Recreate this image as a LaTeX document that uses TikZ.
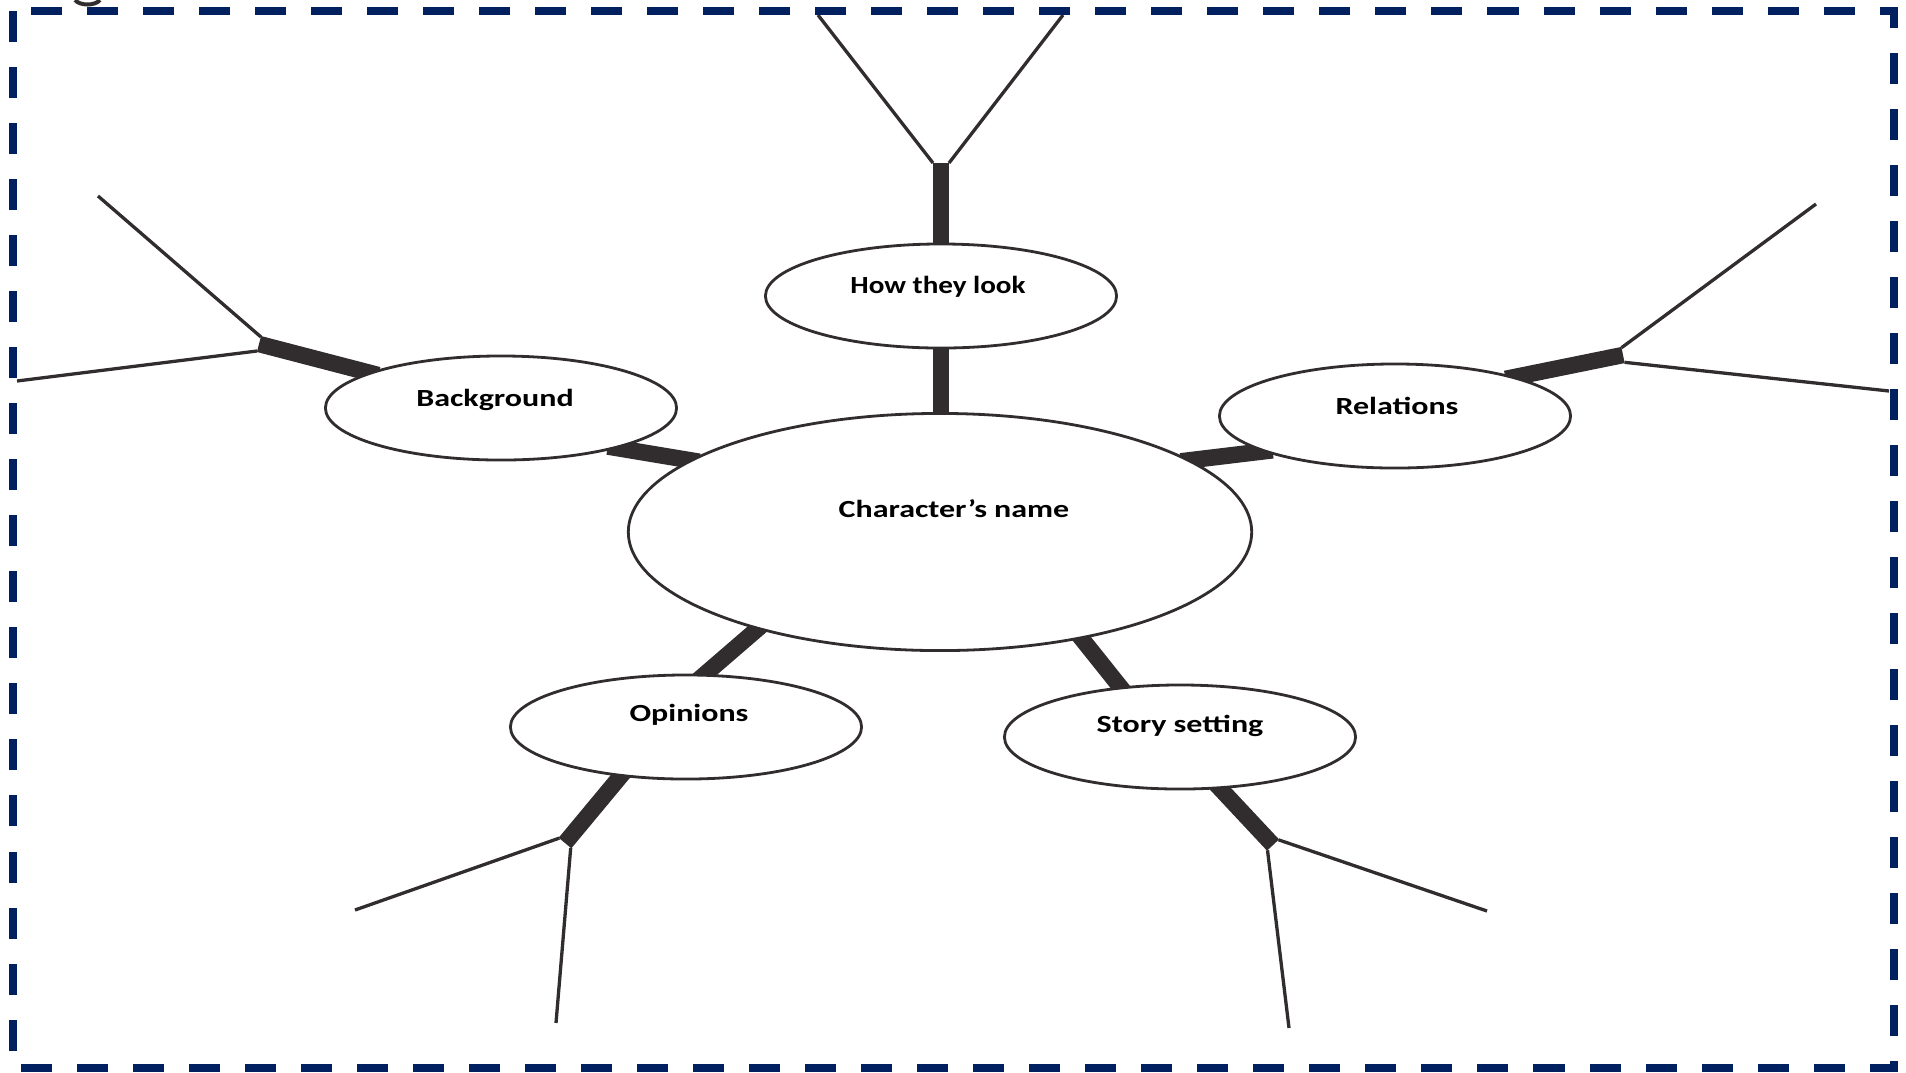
\documentclass[tikz,border=0pt]{standalone}
\usepackage{fontspec}
\newfontfamily\lblfont[FakeStretch=1.3]{Carlito}
\usetikzlibrary{shapes.geometric,backgrounds}
\definecolor{navy}{HTML}{002060}
\definecolor{ink}{HTML}{312C2D}
\begin{document}
\begin{tikzpicture}[x=0.01cm,y=-0.01cm,
  blob/.style={ellipse, draw=ink, line width=0.028cm, fill=white, inner sep=0pt,
               minimum width=3.51cm, minimum height=1.04cm},
  hub/.style={blob, minimum width=6.23cm, minimum height=2.37cm},
  txt/.style={font=\lblfont\bfseries\fontsize{7}{8}\selectfont, anchor=base,
              inner sep=0pt, text=black},
  bar/.style={draw=ink, line width=0.165cm},
  twig/.style={draw=ink, line width=0.033cm},
  frame/.style={draw=navy, line width=0.08cm, dash pattern=on 0.31cm off 0.25cm}]
\useasboundingbox (0,0) rectangle (1906,1072);

% bubbles
\node[hub]  (main) at (940,532)  {};
\node[blob] (look) at (941,296)  {};
\node[blob] (bg)   at (501,408)  {};
\node[blob] (rel)  at (1395,416) {};
\node[blob] (opi)  at (686,727)  {};
\node[blob] (sto)  at (1180,737) {};

% labels
\node[txt] (main-t) at (954,517)  {Character’s name};
\node[txt] (look-t) at (938,293)  {\scalebox{0.91}[1]{How they look}};
\node[txt] (bg-t)   at (495,406)  {Background};
\node[txt] (rel-t)  at (1397,414) {Relations};
\node[txt] (opi-t)  at (689,721)  {Opinions};
\node[txt] (sto-t)  at (1180,732) {Story setting};

% forks: junction corners and free ends of the twigs
\coordinate (jt) at (941,163);
\coordinate (jtl) at (933,163);   \coordinate (jtr) at (949,163);
\coordinate (et1) at (818,15);    \coordinate (et2) at (1063,15);
\coordinate (jb) at (259,344);
\coordinate (jbu) at (261,337);   \coordinate (jbd) at (257,351);
\coordinate (eb1) at (98,196);    \coordinate (eb2) at (17,381);
\coordinate (jr) at (1623,355);
\coordinate (jru) at (1621.5,347.7); \coordinate (jrd) at (1624.5,362.3);
\coordinate (er1) at (1816,204);  \coordinate (er2) at (1889,391);
\coordinate (jo) at (565,843);
\coordinate (jol) at (559.3,838.1); \coordinate (jod) at (570.7,847.9);
\coordinate (eo1) at (355,910);   \coordinate (eo2) at (556,1023);
\coordinate (js) at (1273,845);
\coordinate (jsr) at (1278.5,839.8); \coordinate (jsd) at (1267.5,850.2);
\coordinate (es1) at (1487,911);  \coordinate (es2) at (1289,1028);

% thick spokes, hidden behind the bubbles where they enter them
\begin{pgfonlayer}{background}
  \draw[bar, shorten <=-0.1cm, shorten >=-0.1cm] (look.270) -- (look.270 |- main.90);
  \draw[bar, shorten <=-0.1cm] (look.90) -- (jt);
  \draw[bar, shorten <=-0.1cm, shorten >=-0.1cm] (main.164) -- (bg.341);
  \draw[bar, shorten <=-0.1cm] (bg.165) -- (jb);
  \draw[bar, shorten <=-0.1cm, shorten >=-0.1cm] (main.16) -- (rel.195);
  \draw[bar, shorten <=-0.1cm] (rel.18) -- (jr);
  \draw[bar, shorten <=-0.1cm, shorten >=-0.1cm] (main.208) -- (opi.70);
  \draw[bar, shorten <=-0.1cm] (opi.217) -- (jo);
  \draw[bar, shorten <=-0.1cm, shorten >=-0.1cm] (main.323) -- (sto.140);
  \draw[bar, shorten <=-0.1cm] (sto.308) -- (js);
\end{pgfonlayer}

% thin twigs
\draw[twig] (jtl) -- (et1);  \draw[twig] (jtr) -- (et2);
\draw[twig] (jbu) -- (eb1);  \draw[twig] (jbd) -- (eb2);
\draw[twig] (jru) -- (er1);  \draw[twig] (jrd) -- (er2);
\draw[twig] (jol) -- (eo1);  \draw[twig] (jod) -- (eo2);
\draw[twig] (jsr) -- (es1);  \draw[twig] (jsd) -- (es2);

% small stroke cut by the top edge
\draw[ink, line width=0.04cm] (75,0) .. controls (80,6) and (95,6) .. (100,0);

% dashed frame
\draw[frame] (13,11) -- (13,1068) -- (1894,1068) -- (1894,11) -- cycle;
\end{tikzpicture}
\end{document}
